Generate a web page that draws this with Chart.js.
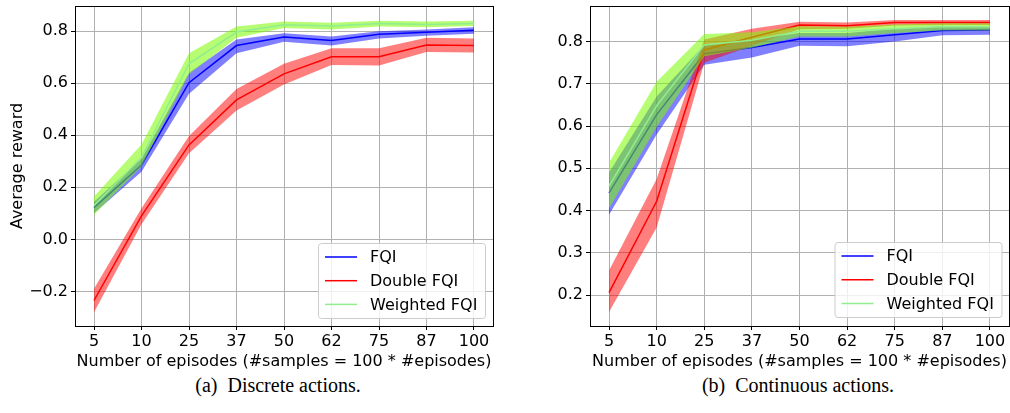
<!DOCTYPE html>
<html>
<head>
<meta charset="utf-8">
<script src="https://cdn.jsdelivr.net/npm/chart.js@4/dist/chart.umd.min.js"></script>
<style>
  body { margin: 0; background: #fff; width: 1010px; height: 413px; position: relative; overflow: hidden; }
  .panel { position: absolute; top: 0; width: 505px; height: 372px; }
  .caption { position: absolute; top: 374px; width: 400px; text-align: center;
             font-family: "Liberation Serif", serif; font-size: 20px; color: #000; }
</style>
</head>
<body>
<div class="panel" style="left:0"><canvas id="discrete" width="505" height="372"></canvas></div>
<div class="panel" style="left:505px"><canvas id="continuous" width="505" height="372"></canvas></div>
<div class="caption" style="left:78px">(a)&nbsp; Discrete actions.</div>
<div class="caption" style="left:598px">(b)&nbsp; Continuous actions.</div>
<script>
const episodes = ['5', '10', '25', '37', '50', '62', '75', '87', '100'];

// discrete actions: mean reward and band edges
const discFqi = [0.122, 0.286, 0.602, 0.745, 0.778, 0.764, 0.788, 0.796, 0.804];
const discFqiLo = [0.100, 0.260, 0.560, 0.715, 0.760, 0.745, 0.772, 0.783, 0.790];
const discFqiHi = [0.145, 0.310, 0.640, 0.768, 0.792, 0.780, 0.800, 0.807, 0.815];
const discDouble = [-0.235, 0.090, 0.363, 0.536, 0.636, 0.702, 0.702, 0.747, 0.745];
const discDoubleLo = [-0.280, 0.058, 0.331, 0.495, 0.595, 0.670, 0.668, 0.720, 0.718];
const discDoubleHi = [-0.190, 0.120, 0.397, 0.578, 0.675, 0.735, 0.735, 0.775, 0.772];
const discWeighted = [0.130, 0.315, 0.675, 0.797, 0.825, 0.820, 0.830, 0.826, 0.830];
const discWeightedLo = [0.095, 0.280, 0.635, 0.775, 0.812, 0.807, 0.818, 0.815, 0.820];
const discWeightedHi = [0.165, 0.365, 0.715, 0.818, 0.837, 0.833, 0.840, 0.837, 0.840];

// continuous actions
const contFqi = [0.442, 0.627, 0.771, 0.786, 0.806, 0.806, 0.816, 0.826, 0.827];
const contFqiLo = [0.390, 0.580, 0.745, 0.762, 0.790, 0.789, 0.800, 0.815, 0.816];
const contFqiHi = [0.490, 0.670, 0.792, 0.805, 0.820, 0.820, 0.830, 0.836, 0.836];
const contDouble = [0.206, 0.422, 0.780, 0.810, 0.839, 0.837, 0.845, 0.845, 0.845];
const contDoubleLo = [0.160, 0.360, 0.750, 0.790, 0.829, 0.830, 0.838, 0.839, 0.839];
const contDoubleHi = [0.258, 0.475, 0.805, 0.830, 0.847, 0.845, 0.851, 0.851, 0.851];
const contWeighted = [0.458, 0.648, 0.792, 0.803, 0.824, 0.824, 0.830, 0.835, 0.835];
const contWeightedLo = [0.405, 0.598, 0.765, 0.785, 0.812, 0.812, 0.820, 0.826, 0.826];
const contWeightedHi = [0.513, 0.705, 0.818, 0.822, 0.836, 0.835, 0.840, 0.843, 0.843];

const seriesNames = ['FQI', 'Double FQI', 'Weighted FQI'];
const lineColors = ['#0000ff', '#ff0000', '#90ee90'];
const bandColors = ['rgba(0,0,255,0.5)', 'rgba(255,0,0,0.5)', 'rgba(124,252,0,0.55)'];

const FONT = 'DejaVu Sans';
const FONT_SIZE = 16;

function points(values) {
    return values.map((v, i) => ({x: i, y: v}));
}

// each series: upper band edge filled down to lower edge, then the mean line on top
function buildDatasets(series) {
    const out = [];
    series.forEach(([mean, lo, hi], k) => {
        const base = 10 - k * 3;
        out.push({
            label: '_hi', data: points(hi), borderWidth: 0, pointRadius: 0,
            backgroundColor: bandColors[k], fill: {target: out.length + 1}, order: base
        });
        out.push({
            label: '_lo', data: points(lo), borderWidth: 0, pointRadius: 0, fill: false, order: base
        });
        out.push({
            label: seriesNames[k], data: points(mean), borderColor: lineColors[k],
            borderWidth: 1.5, pointRadius: 0, fill: false, order: base - 1
        });
    });
    return out;
}

const frameAndLegend = {
    id: 'frameAndLegend',
    afterDatasetsDraw(chart, args, opts) {
        const {ctx, chartArea: a} = chart;
        ctx.save();
        ctx.strokeStyle = '#000';
        ctx.lineWidth = 1;
        ctx.strokeRect(Math.round(a.left) + 0.5, Math.round(a.top) + 0.5,
            Math.round(a.right - a.left), Math.round(a.bottom - a.top));

        // legend box in the lower right corner
        const w = 167, h = 75;
        const x = a.right - opts.right - w, y = a.bottom - opts.bottom - h;
        ctx.beginPath();
        ctx.roundRect(x + 0.5, y + 0.5, w, h, 3);
        ctx.fillStyle = 'rgba(255,255,255,0.8)';
        ctx.fill();
        ctx.strokeStyle = '#cccccc';
        ctx.stroke();
        ctx.font = `${FONT_SIZE}px "${FONT}"`;
        ctx.textBaseline = 'middle';
        ctx.fillStyle = '#000';
        chart.data.datasets.filter(d => !d.label.startsWith('_')).forEach((d, i) => {
            const cy = y + 14 + i * 23.7;
            ctx.beginPath();
            ctx.moveTo(x + 7, cy);
            ctx.lineTo(x + 39, cy);
            ctx.strokeStyle = d.borderColor;
            ctx.lineWidth = 1.5;
            ctx.stroke();
            ctx.fillText(d.label, x + 52, cy + 1);
        });
        ctx.restore();
    }
};

function makeChart(id, series, yMin, yMax, yStep, yAxisWidth, rightPad, yTitle, legendPos) {
    return new Chart(document.getElementById(id), {
        type: 'line',
        data: {datasets: buildDatasets(series)},
        plugins: [frameAndLegend],
        options: {
            responsive: false,
            animation: false,
            layout: {padding: {top: 6, right: rightPad, bottom: 0, left: 0}},
            plugins: {
                legend: {display: false},
                tooltip: {enabled: false},
                frameAndLegend: legendPos
            },
            scales: {
                x: {
                    type: 'linear',
                    min: -0.4,
                    max: 8.4,
                    afterBuildTicks: scale => {
                        scale.ticks = episodes.map((_, i) => ({value: i}));
                    },
                    afterFit: scale => {
                        scale.height = 46;
                        scale.paddingLeft = 0;
                        scale.paddingRight = 0;
                    },
                    ticks: {
                        callback: value => episodes[value],
                        color: '#000', padding: 2, maxRotation: 0, autoSkip: false,
                        font: {family: FONT, size: FONT_SIZE}
                    },
                    grid: {color: '#b0b0b0', lineWidth: 1, tickLength: 4, tickColor: '#000'},
                    border: {display: false},
                    title: {
                        display: true, text: 'Number of episodes (#samples = 100 * #episodes)',
                        color: '#000', font: {family: FONT, size: FONT_SIZE}, padding: {top: 0, bottom: 1}
                    }
                },
                y: {
                    min: yMin,
                    max: yMax,
                    afterBuildTicks: scale => {
                        const ticks = [];
                        const first = Math.ceil(yMin / yStep - 1e-9);
                        for (let k = first; k * yStep <= yMax + 1e-9; k++) {
                            ticks.push({value: +(k * yStep).toFixed(3)});
                        }
                        scale.ticks = ticks;
                    },
                    afterFit: scale => {
                        scale.width = yAxisWidth;
                        scale.paddingTop = 0;
                        scale.paddingBottom = 0;
                    },
                    ticks: {
                        callback: value => value.toFixed(1).replace('-', '\u2212'),
                        color: '#000', padding: 3,
                        font: {family: FONT, size: FONT_SIZE}
                    },
                    grid: {color: '#b0b0b0', lineWidth: 1, tickLength: 4, tickColor: '#000'},
                    border: {display: false},
                    title: {
                        display: yTitle !== '', text: yTitle, color: '#000',
                        font: {family: FONT, size: FONT_SIZE}, padding: {top: 8, bottom: 0}
                    }
                }
            }
        }
    });
}

makeChart('discrete', [
    [discFqi, discFqiLo, discFqiHi],
    [discDouble, discDoubleLo, discDoubleHi],
    [discWeighted, discWeightedLo, discWeightedHi]
], -0.333, 0.897, 0.2, 75, 12, 'Average reward', {right: 8, bottom: 8});

makeChart('continuous', [
    [contFqi, contFqiLo, contFqiHi],
    [contDouble, contDoubleLo, contDoubleHi],
    [contWeighted, contWeightedLo, contWeightedHi]
], 0.127, 0.884, 0.1, 85, 1, '', {right: 7.5, bottom: 9});
</script>
</body>
</html>
